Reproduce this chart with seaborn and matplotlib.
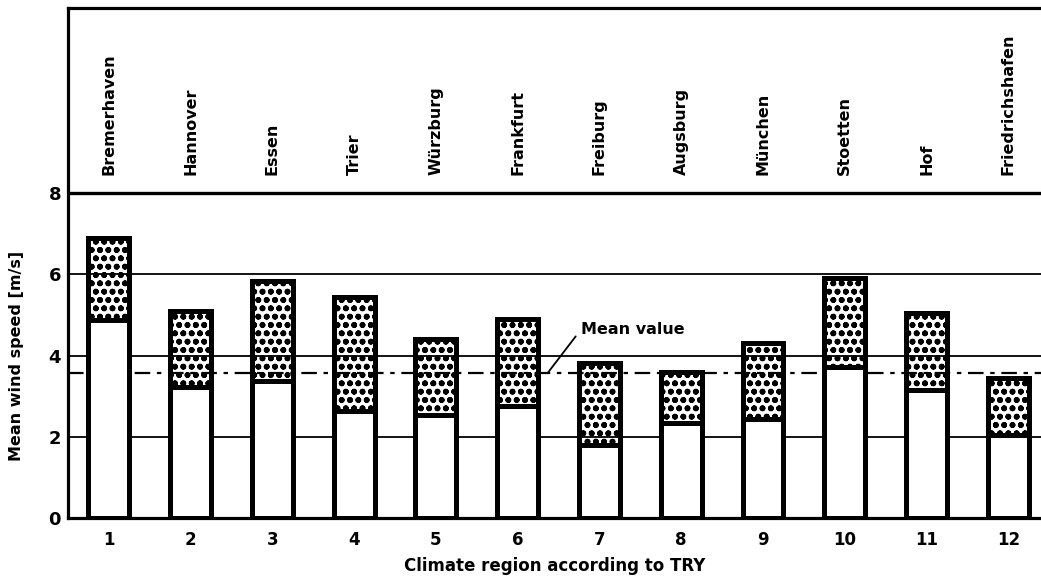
import numpy as np
import pandas as pd
import matplotlib
matplotlib.use("Agg")
import matplotlib.pyplot as plt
import seaborn as sns

sns.set_style("white")
plt.rcParams['font.family'] = ['DejaVu Sans']
plt.rcParams['font.weight'] = 'bold'
plt.rcParams['text.color'] = 'black'
plt.rcParams['axes.labelcolor'] = 'black'
plt.rcParams['xtick.color'] = 'black'
plt.rcParams['ytick.color'] = 'black'
plt.rcParams['hatch.linewidth'] = 1.8
plt.rcParams['hatch.color'] = 'black'

regions = ['1', '2', '3', '4', '5', '6', '7', '8', '9', '10', '11', '12']
cities = ['Bremerhaven', 'Hannover', 'Essen', 'Trier', 'Würzburg', 'Frankfurt',
          'Freiburg', 'Augsburg', 'München', 'Stoetten', 'Hof', 'Friedrichshafen']
upper = [6.90, 5.10, 5.84, 5.43, 4.40, 4.91, 3.81, 3.59, 4.30, 5.90, 5.05, 3.44]
lower = [4.87, 3.23, 3.38, 2.64, 2.54, 2.76, 1.80, 2.33, 2.43, 3.72, 3.15, 2.05]
mean_value = 3.58
grid_levels = [2, 4, 6]

df = pd.DataFrame({'region': regions, 'city': cities, 'upper': upper, 'lower': lower})

fig = plt.figure(figsize=(10.41, 5.85), dpi=100)
ax = fig.add_axes([0.0653, 0.114, 0.9347, 0.8723])

# stippled range (upper) and white part below (lower)
sns.barplot(data=df, x='region', y='upper', color='white', width=0.5,
            edgecolor='black', linewidth=3.6, hatch='oo', saturation=1,
            zorder=1, ax=ax)
sns.barplot(data=df, x='region', y='lower', color='white', width=0.5,
            edgecolor='black', linewidth=3.6, saturation=1, zorder=3, ax=ax)
for p in ax.containers[0]:
    p.set_facecolor('none')

for lv in grid_levels:
    ax.axhline(lv, color='black', lw=1.3, zorder=2)
ax.axhline(8, color='black', lw=2.4, zorder=2)
ax.axhline(mean_value, color='black', lw=1.6, linestyle=(0, (7, 3, 2, 3)), zorder=2)

ax.annotate('Mean value', xy=(5.37, mean_value), xytext=(5.77, 4.63),
            ha='left', va='center', fontsize=11.5, fontweight='bold',
            arrowprops=dict(arrowstyle='-', color='black', lw=1.3,
                            relpos=(0, 0.5), shrinkA=2, shrinkB=0))

for i, c in enumerate(cities):
    ax.text(i, 8.43, c, rotation=90, ha='center', va='bottom',
            fontsize=11.5, fontweight='bold')

ax.set_ylim(0, 12.54)
ax.set_xlim(-0.5, 11.4)
ax.set_yticks([0, 2, 4, 6, 8])
ax.tick_params(axis='y', length=0, pad=5, labelsize=13)
ax.tick_params(axis='x', length=0, pad=9, labelsize=12)
for lab in ax.get_xticklabels() + ax.get_yticklabels():
    lab.set_fontweight('bold')

ax.set_xlabel('Climate region according to TRY', fontsize=12, fontweight='bold', labelpad=6)
ax.set_ylabel('Mean wind speed [m/s]', fontsize=11.5, fontweight='bold')
ax.yaxis.set_label_coords(-0.045, 4 / 12.54)

for s in ['left', 'bottom', 'top']:
    ax.spines[s].set_color('black')
    ax.spines[s].set_linewidth(2.3)
ax.spines['right'].set_visible(False)

fig.savefig('out.png', dpi=100)
